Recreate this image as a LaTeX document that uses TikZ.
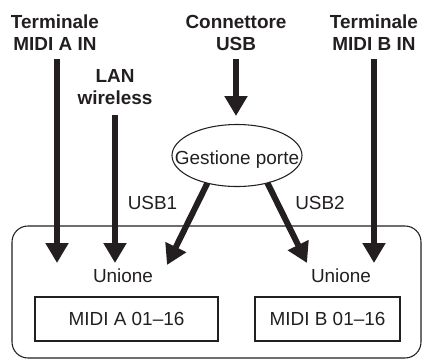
\documentclass[tikz,border=0pt]{standalone}
\usepackage{fontspec}
\setmainfont{Liberation Sans}
\usetikzlibrary{arrows.meta,shapes.geometric}
\definecolor{ink}{HTML}{231F20}
\tikzset{
  fat/.style={draw=ink,line width=4.5pt,-{Triangle[width=16.5pt,length=15pt]}},
  thin/.style={draw=ink,line width=0.8pt},
  head/.style={font=\fontsize{14.2pt}{16.5pt}\selectfont\bfseries,align=center,anchor=north,inner sep=0pt,text=ink},
  lbl/.style={font=\fontsize{14.2pt}{16.5pt}\selectfont,anchor=base,inner sep=0pt,text=ink},
  midibox/.style={thin,rectangle,minimum height=33pt,font=\fontsize{14.2pt}{16.5pt}\selectfont,text=ink,inner sep=0pt}
}
\begin{document}
\begin{tikzpicture}[x=0.75pt,y=-0.75pt]
\useasboundingbox (0,0) rectangle (422,361);
% outer rounded box
\draw[thin,rounded corners=12pt] (12,226) rectangle (421,358);
% headings
\node[head] (ta) at (55,15) {Terminale\\MIDI A IN};
\node[head] (lan) at (115,69) {LAN\\wireless};
\node[head] (usb) at (236,15) {Connettore\\USB};
\node[head] (tb) at (374,15) {Terminale\\MIDI B IN};
% ellipse
\node[thin,ellipse,minimum width=97.5pt,minimum height=46.5pt,inner sep=0pt,outer sep=0pt,
      text height=14pt,text depth=0pt,font=\fontsize{14.2pt}{16.5pt}\selectfont,text=ink]
      (gp) at (237,155.5) {\makebox[0pt]{Gestione porte}};
% labels
\node[lbl] (u1) at (152.5,209) {USB1};
\node[lbl] (u2) at (320,209) {USB2};
\node[lbl] (una) at (123,282) {Unione};
\node[lbl] (unb) at (341,282) {Unione};
% boxes
\node[midibox,minimum width=137.25pt] (ma) at (126.5,319) {MIDI A 01–16};
\node[midibox,minimum width=108.75pt] (mb) at (327.5,319) {MIDI B 01–16};
% arrow coordinates
\coordinate (sa) at (57,59);
\coordinate (ea) at (57,263);
\coordinate (sl) at (115,115);
\coordinate (el) at (115,263);
\coordinate (su) at (236,59);
\coordinate (eu) at (236,116);
\coordinate (sb) at (374,59);
\coordinate (eb) at (374,263);
\coordinate (e1) at (167,265);
\coordinate (e2) at (307,263);
% arrows
\draw[fat] (sa) -- (ea);
\draw[fat] (sl) -- (el);
\draw[fat] (su) -- (eu);
\draw[fat] (sb) -- (eb);
\draw[fat] (gp.223) -- (e1);
\draw[fat] (gp.318) -- (e2);
\end{tikzpicture}
\end{document}
